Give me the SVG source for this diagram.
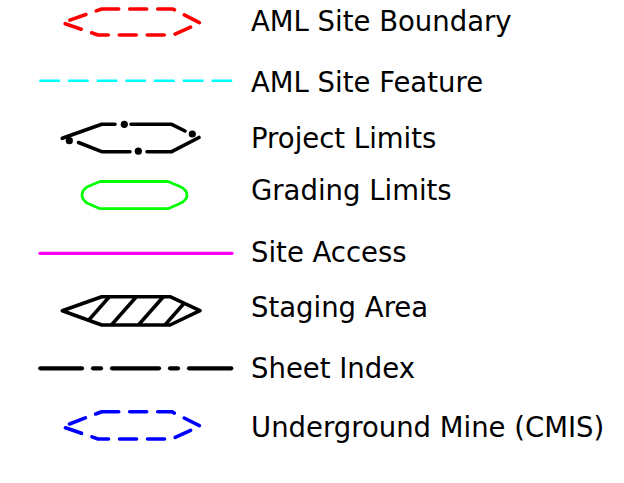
<svg xmlns="http://www.w3.org/2000/svg" width="624" height="483" viewBox="0 0 624 483">
<style>
.lbl{font-family:"DejaVu Sans","Liberation Sans",sans-serif;font-size:27.5px;fill:#000}
.sym{fill:none;stroke-linecap:round;stroke-linejoin:round}
.dash{stroke-width:3.6;stroke-dasharray:17 11}
.blk{stroke:#000;stroke-width:3.6}
</style>
<defs>
<clipPath id="stageClip"><polygon points="62.3,310.7 101.7,296.7 170,296.7 200,310.7 170,325 101.7,325"/></clipPath>
</defs>
<rect width="624" height="483" fill="#fff"/>
<g id="aml-site-boundary">
<path class="sym dash" stroke="#ff0000" d="M101.7,9 L173,9 L200,23 L173,35 L98,35 L62.3,22.7 Z"/>
<text class="lbl" x="251" y="31">AML Site Boundary</text>
</g>
<g id="aml-site-feature">
<line x1="39.3" y1="80.7" x2="233" y2="80.7" stroke="#00ffff" stroke-width="2.6" stroke-dasharray="20.7 8"/>
<text class="lbl" x="251" y="91.5">AML Site Feature</text>
</g>
<g id="project-limits">
<g class="sym blk">
<polyline points="62.3,138.3 101.7,124.3 115,124.3"/>
<polyline points="131,124.3 171.7,124.3 185,131"/>
<polyline points="199,137.5 171.7,151.7 147,151.7"/>
<polyline points="130,151.7 101.7,151.7 78.5,142.5"/>
</g>
<g fill="#000">
<circle cx="124.3" cy="124.3" r="3.6"/>
<circle cx="192.3" cy="134" r="3.6"/>
<circle cx="138.3" cy="151.2" r="3.6"/>
<circle cx="69.3" cy="140.7" r="3.6"/>
</g>
<text class="lbl" x="251" y="147.5">Project Limits</text>
</g>
<g id="grading-limits">
<path class="sym" stroke="#00ff00" stroke-width="2.8" d="M100,181.5 L168,181.5 L180,186.5 Q187,190 187,195 Q187,200 180,203.5 L168,208.7 L100,208.7 L88,203.5 Q82,200 82,195 Q82,190 88,186.5 Z"/>
<text class="lbl" x="251" y="200">Grading Limits</text>
</g>
<g id="site-access">
<line x1="40" y1="253.3" x2="232" y2="253.3" stroke="#ff00ff" stroke-width="3.2" stroke-linecap="round"/>
<text class="lbl" x="251" y="262.3">Site Access</text>
</g>
<g id="staging-area">
<g clip-path="url(#stageClip)" stroke="#000" stroke-width="3.6">
<line x1="80" y1="330" x2="110" y2="296"/>
<line x1="107" y1="330" x2="137" y2="296"/>
<line x1="134" y1="330" x2="164" y2="296"/>
<line x1="160.5" y1="330" x2="190.5" y2="296"/>
</g>
<polygon class="sym blk" points="62.3,310.7 101.7,296.7 170,296.7 200,310.7 170,325 101.7,325"/>
<text class="lbl" x="251" y="317.3">Staging Area</text>
</g>
<g id="sheet-index">
<g stroke="#000" stroke-width="4.2" stroke-linecap="round">
<line x1="40.3" y1="368.3" x2="82" y2="368.3"/>
<line x1="93" y1="368.3" x2="101" y2="368.3"/>
<line x1="112" y1="368.3" x2="159" y2="368.3"/>
<line x1="170" y1="368.3" x2="178" y2="368.3"/>
<line x1="189" y1="368.3" x2="231.3" y2="368.3"/>
</g>
<text class="lbl" x="251" y="378.3">Sheet Index</text>
</g>
<g id="underground-mine">
<path class="sym dash" stroke="#0000ff" d="M101.7,411.7 L171.7,411.7 L200,426 L171.7,439 L98,439 L62.3,426.7 Z"/>
<text class="lbl" x="251" y="436.7">Underground Mine (CMIS)</text>
</g>
</svg>
